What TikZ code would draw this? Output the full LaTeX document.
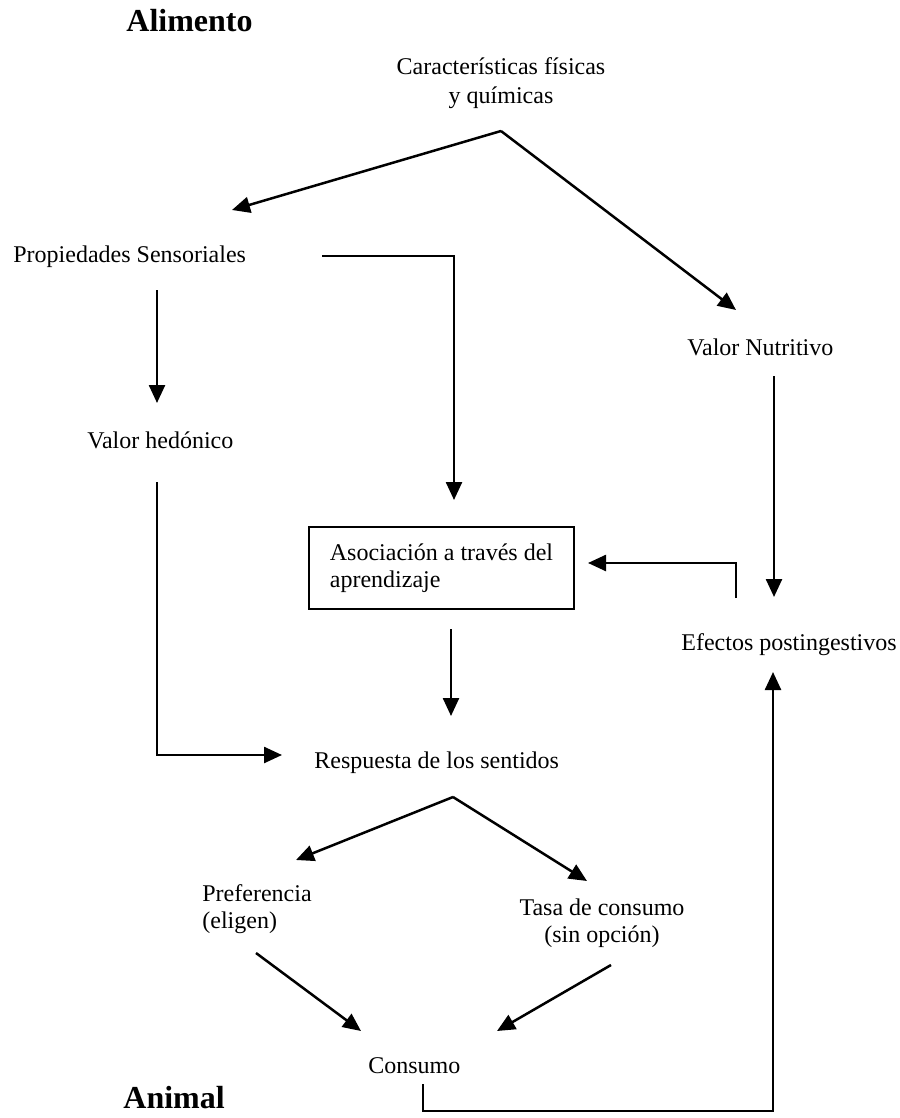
\documentclass[tikz,border=0pt]{standalone}
\usepackage{fontspec}
\setmainfont{Liberation Serif}
\usetikzlibrary{arrows.meta}

\tikzset{
  lbl/.style={inner sep=0pt, font=\fontsize{12}{13.5}\selectfont},
  titulo/.style={inner sep=0pt, font=\fontsize{16}{19}\selectfont\bfseries},
  flecha/.style={line width=1.25pt, -{Triangle[length=9pt,width=8pt]}},
  caja/.style={draw, line width=1pt, inner sep=0pt, align=left,
    font=\fontsize{12}{13.5}\selectfont}
}

\begin{document}
\begin{tikzpicture}[x=0.5pt,y=-0.5pt]
  \useasboundingbox (0,0) rectangle (899,1118);

  % titulos
  \node[titulo, anchor=base west] (alim) at (126,32) {Alimento};
  \node[titulo, anchor=base west] (anim) at (123,1108) {Animal};

  % textos
  \node[lbl, align=center, anchor=north, font=\fontsize{12}{14.5}\selectfont] (carac) at (501,57) {Características físicas\\y químicas};
  \node[lbl, anchor=base west] (prop) at (13,263) {Propiedades Sensoriales};
  \node[lbl, anchor=base west] (nutr) at (687,355) {Valor Nutritivo};
  \node[lbl, anchor=base west] (hedo) at (87,448) {Valor hedónico};
  \node[caja, minimum width=132.5pt, minimum height=41pt] (asoc) at (441.5,568) {Asociación a través del\\aprendizaje};
  \node[lbl, anchor=base west] (efec) at (681,650) {Efectos postingestivos};
  \node[lbl, anchor=base west] (resp) at (314,768) {Respuesta de los sentidos};
  \node[lbl, align=left, anchor=north west] (pref) at (202,884) {Preferencia\\(eligen)};
  \node[lbl, align=center, anchor=north] (tasa) at (602,898) {Tasa de consumo\\(sin opción)};
  \node[lbl, anchor=base west] (cons) at (368,1073) {Consumo};

  % extremos de las flechas
  \coordinate (ap1) at (501,131);
  \coordinate (pr1) at (232,210);
  \coordinate (vn1) at (736,310);
  \coordinate (ps1) at (322,256);
  \coordinate (ps2) at (454,256);
  \coordinate (as1) at (454,500);
  \coordinate (ps3) at (157,290);
  \coordinate (vh1) at (157,403);
  \coordinate (vh2) at (157,482);
  \coordinate (vh3) at (157,755);
  \coordinate (rs1) at (282,755);
  \coordinate (vn2) at (774,376);
  \coordinate (ef1) at (774,597);
  \coordinate (ef2) at (736,598);
  \coordinate (ef3) at (736,563);
  \coordinate (as2) at (588,563);
  \coordinate (as3) at (451,629);
  \coordinate (rs2) at (451,716);
  \coordinate (ap2) at (453,797);
  \coordinate (pf1) at (296,860);
  \coordinate (ts1) at (587,881);
  \coordinate (pf2) at (256,953);
  \coordinate (cs1) at (361,1031);
  \coordinate (ts2) at (611,965);
  \coordinate (cs2) at (497,1031);
  \coordinate (cs3) at (423,1084);
  \coordinate (cs4) at (423,1111);
  \coordinate (cs5) at (773,1111);
  \coordinate (ef4) at (773,672);

  % flechas
  \draw[flecha] (ap1) -- (pr1);
  \draw[flecha] (ap1) -- (vn1);
  \draw[flecha] (ps1) -- (ps2) -- (as1);
  \draw[flecha] (ps3) -- (vh1);
  \draw[flecha] (vh2) -- (vh3) -- (rs1);
  \draw[flecha] (vn2) -- (ef1);
  \draw[flecha] (ef2) -- (ef3) -- (as2);
  \draw[flecha] (as3) -- (rs2);
  \draw[flecha] (ap2) -- (pf1);
  \draw[flecha] (ap2) -- (ts1);
  \draw[flecha] (pf2) -- (cs1);
  \draw[flecha] (ts2) -- (cs2);
  \draw[flecha] (cs3) -- (cs4) -- (cs5) -- (ef4);
\end{tikzpicture}
\end{document}
